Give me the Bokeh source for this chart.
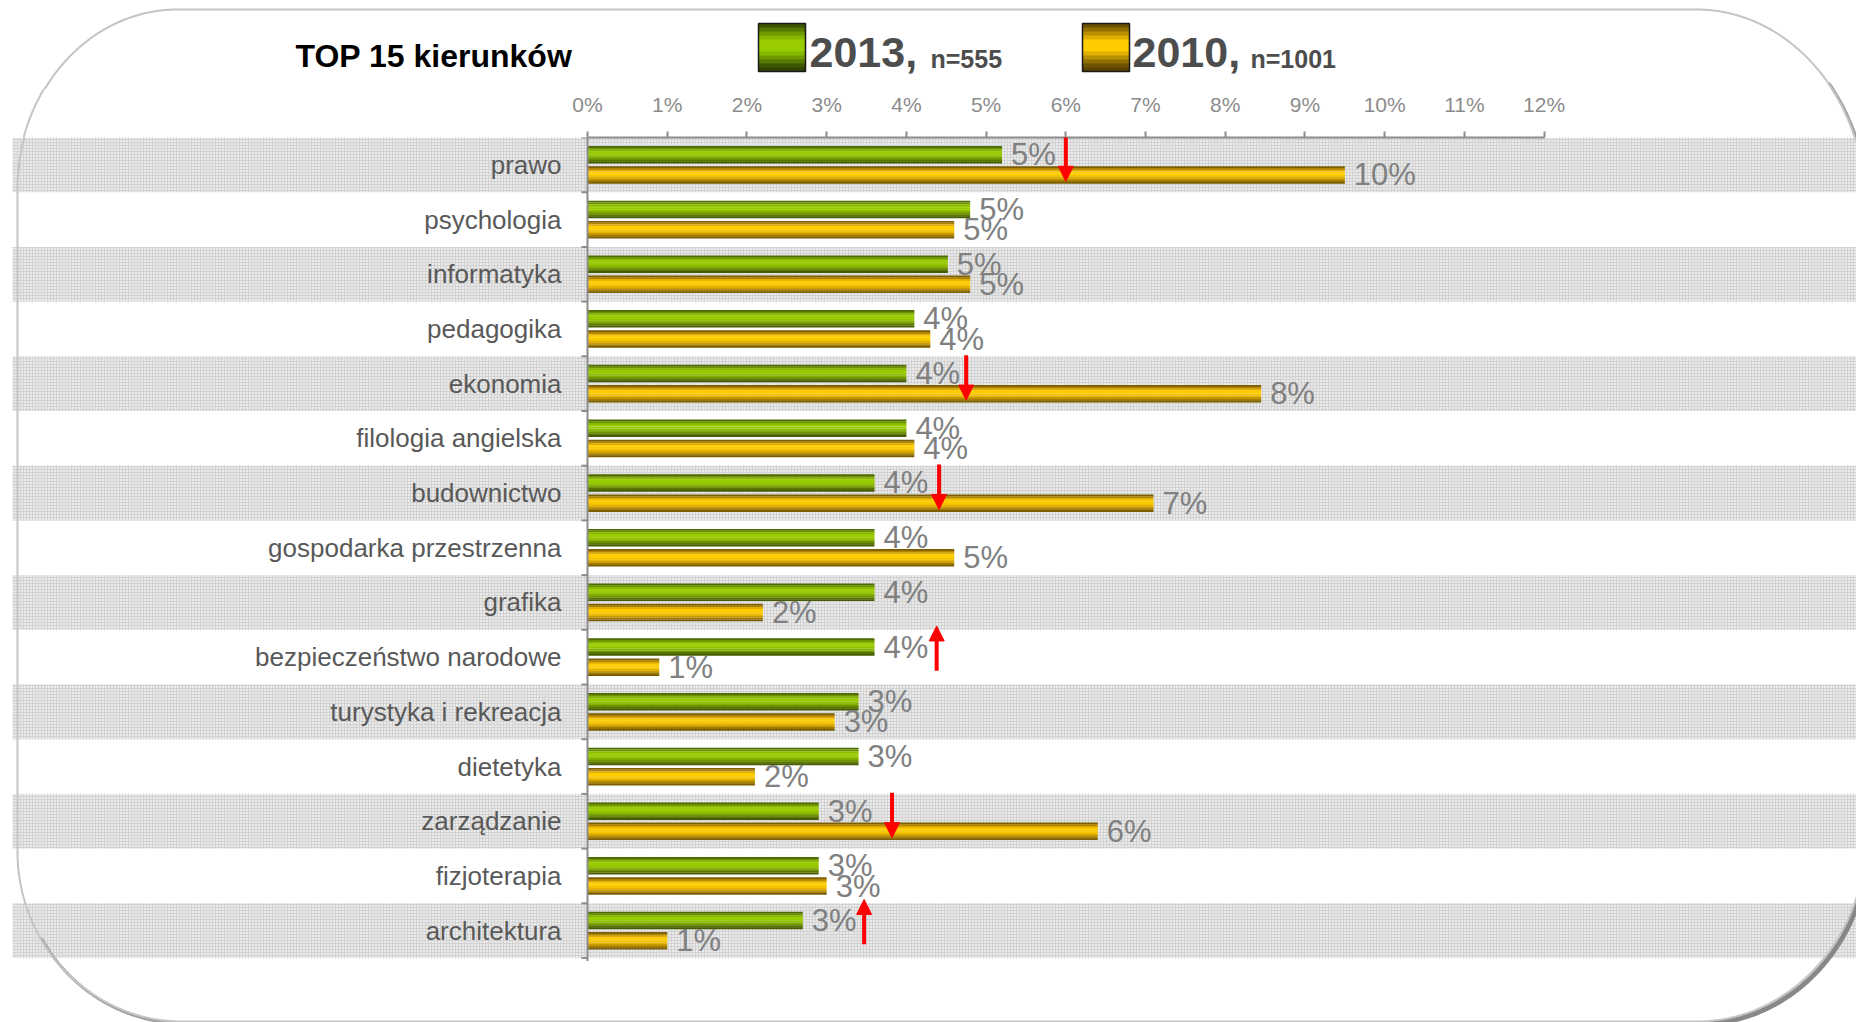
import math
from urllib.parse import quote
import numpy as np
from bokeh.plotting import figure
from bokeh.layouts import column
from bokeh.models import (Range1d, ColumnDataSource, FixedTicker, PrintfTickFormatter,
                          LinearAxis, Arrow, NormalHead)
from bokeh.embed import file_html
from bokeh.resources import INLINE
from bokeh.core.properties import value

# ---------------- data ----------------
categories = ["prawo", "psychologia", "informatyka", "pedagogika", "ekonomia",
              "filologia angielska", "budownictwo", "gospodarka przestrzenna", "grafika",
              "bezpieczeństwo narodowe", "turystyka i rekreacja", "dietetyka",
              "zarządzanie", "fizjoterapia", "architektura"]
values_2013 = [5.2, 4.8, 4.52, 4.1, 4.0, 4.0, 3.6, 3.6, 3.6, 3.6, 3.4, 3.4, 2.9, 2.9, 2.7]
values_2010 = [9.5, 4.6, 4.8, 4.3, 8.45, 4.1, 7.1, 4.6, 2.2, 0.9, 3.1, 2.1, 6.4, 3.0, 1.0]
tick_values = list(range(0, 13))
legend_years = ["2013,", "2010,"]
legend_n = ["n=555", "n=1001"]
title_text = "TOP 15 kierunków"
arrow_categories = ["prawo", "ekonomia", "budownictwo", "bezpieczeństwo narodowe",
                    "zarządzanie", "architektura"]
arrow_x = [6.0, 4.75, 4.41, 4.38, 3.82, 3.47]
arrow_directions = ["down", "down", "down", "up", "down", "up"]

# ---------------- layout constants (page pixels) ----------------
FIG_W = 1856
HEAD_H = 89
MAIN_H = 933
TOP_BORDER = 48
PAGE_LEFT = 0
HEAD_TOP = 0
MAIN_TOP = HEAD_TOP + HEAD_H          # 89
FRAME_TOP = MAIN_TOP + TOP_BORDER     # 137
FRAME_BOTTOM = MAIN_TOP + MAIN_H      # 1022
ZERO_PX = 587
PX_PER_PCT = 79.72
ROW_PX = 54.7
FONT = "Liberation Sans"

GREEN_GRAD = ["#4e6a00", "#6b9200", "#88b800", "#99cc00", "#99cc00",
              "#93c400", "#84b000", "#6f9400", "#5a7800", "#455c00"]
GOLD_GRAD = ["#7d5e00", "#b08400", "#e0ac00", "#ffcc00", "#ffcc00",
             "#f7c600", "#e6b400", "#c99b00", "#a37d00", "#7d5e00"]
GREEN_SQ = ["#3d5700", "#557800", "#6e9a00", "#86b800", "#99cc00", "#99cc00",
            "#99cc00", "#86b800", "#6e9a00", "#557800", "#3d5700", "#2f4400"]
GOLD_SQ = ["#6e5200", "#927000", "#b89000", "#e0b000", "#ffcc00", "#ffcc00",
           "#ffcc00", "#e0b000", "#b89000", "#927000", "#6e5200", "#5a4300"]


def pct(v):
    return f"{int(math.floor(v + 0.5))}%"


def corner(cx, cy, rx, ry, a0, a1, n=200):
    t = np.radians(np.linspace(a0, a1, n))
    return list(cx + rx * np.cos(t)), list(cy + ry * np.sin(t))


# decorative rounded frame (page pixel coordinates, y down)
L, T, R, B = 17, 9, 1866, 1021
TL, TR, BR, BL = (160, 180), (170, 200), (170, 187), (165, 170)


def border_path():
    xs, ys = [], []
    for (cx, cy, rx, ry, a0, a1) in [
        (L + TL[0], T + TL[1], TL[0], TL[1], 180, 270),
        (R - TR[0], T + TR[1], TR[0], TR[1], 270, 360),
        (R - BR[0], B - BR[1], BR[0], BR[1], 0, 90),
        (L + BL[0], B - BL[1], BL[0], BL[1], 90, 180),
    ]:
        x, y = corner(cx, cy, rx, ry, a0, a1)
        xs += x
        ys += y
    xs.append(xs[0])
    ys.append(ys[0])
    return xs, ys


def shadow_path():
    xs, ys = [], []
    for (cx, cy, rx, ry, a0, a1) in [
        (R - TR[0], T + TR[1], TR[0], TR[1], 320, 360),
        (R - BR[0], B - BR[1], BR[0], BR[1], 0, 90),
        (L + BL[0], B - BL[1], BL[0], BL[1], 90, 150),
    ]:
        x, y = corner(cx, cy, rx, ry, a0, a1)
        xs += x
        ys += y
    return [x + 2 for x in xs], [y + 2 for y in ys]


def br_shadow():
    x, y = corner(R - BR[0], B - BR[1], BR[0], BR[1], 0, 90)
    return [v + 2.5 for v in x], [v + 2.5 for v in y]


def draw_border(fig, xr, yr):
    sx, sy = shadow_path()
    fig.line(sx, sy, line_color="#a0a0a0", line_width=3, x_range_name=xr, y_range_name=yr)
    bx2, by2 = br_shadow()
    fig.line(bx2, by2, line_color="#888888", line_width=5, x_range_name=xr, y_range_name=yr)
    bx, by = border_path()
    fig.line(bx, by, line_color="#c4c4c4", line_width=2, x_range_name=xr, y_range_name=yr)


# ---------------- main chart ----------------
n = len(categories)
row_y = list(range(n))
x_lo = (PAGE_LEFT - ZERO_PX) / PX_PER_PCT
x_hi = (PAGE_LEFT + FIG_W - ZERO_PX) / PX_PER_PCT
y_bottom = -0.5 + (FRAME_BOTTOM - FRAME_TOP) / ROW_PX

p = figure(width=FIG_W, height=MAIN_H, x_range=Range1d(x_lo, x_hi),
           y_range=Range1d(y_bottom, -0.5), output_backend="svg", toolbar_location=None,
           x_axis_location=None, y_axis_location=None,
           min_border_top=TOP_BORDER, min_border_bottom=0, min_border_left=0, min_border_right=0,
           background_fill_color="white", border_fill_color="white")
p.border_fill_alpha = 0
p.outline_line_color = None
for g in p.grid:
    g.visible = False
p.extra_x_ranges = {"px": Range1d(PAGE_LEFT, PAGE_LEFT + FIG_W)}
p.extra_y_ranges = {"py": Range1d(FRAME_BOTTOM, FRAME_TOP)}

# alternating textured row bands
band_y = [i for i in row_y if i % 2 == 0]
band_left = (12 - ZERO_PX) / PX_PER_PCT
p.hbar(y=band_y, left=band_left, right=x_hi + 1, height=1.0,
       fill_color="#ebebeb", hatch_pattern="+", hatch_color="#d2d2d2",
       hatch_scale=3, hatch_weight=1, line_color=None)

draw_border(p, "px", "py")

# bars with a cylindrical gradient
BAR_H = 0.316
OFFS = 0.185


def gradient_bars(fig, centers, vals, colors):
    k_n = len(colors)
    h = BAR_H / k_n
    for k, c in enumerate(colors):
        ys = [y - BAR_H / 2 + (k + 0.5) * h for y in centers]
        fig.hbar(y=ys, left=0, right=vals, height=h * 1.12, fill_color=c, line_color=None)


y_2013 = [y - OFFS for y in row_y]
y_2010 = [y + OFFS for y in row_y]
gradient_bars(p, y_2013, values_2013, GREEN_GRAD)
gradient_bars(p, y_2010, values_2010, GOLD_GRAD)

# value labels
lab_style = dict(x_offset=9, text_align="left", text_baseline="middle",
                 text_font=value(FONT), text_font_size="31px", text_color="#808080")
p.text(x=values_2013, y=y_2013, text=[pct(v) for v in values_2013], **lab_style)
p.text(x=values_2010, y=y_2010, text=[pct(v) for v in values_2010], **lab_style)

# category labels
p.text(x=[0] * n, y=row_y, text=categories, x_offset=-26, text_align="right",
       text_baseline="middle", text_font=value(FONT), text_font_size="26px",
       text_color="#595959")

# vertical category axis line + ticks at row boundaries
bounds_y = [i - 0.5 for i in range(n + 1)]
tick_len = 6 / PX_PER_PCT
p.segment(x0=[0], y0=[-0.5], x1=[0], y1=[n - 0.5 + 3 / ROW_PX],
          line_color="#8c8c8c", line_width=2)
p.segment(x0=[-tick_len] * len(bounds_y), y0=bounds_y, x1=[0] * len(bounds_y), y1=bounds_y,
          line_color="#8c8c8c", line_width=2)

# red change arrows
arrow_idx = [categories.index(c) for c in arrow_categories]
a_y0 = [i - 0.52 if d == "down" else i + 0.25 for i, d in zip(arrow_idx, arrow_directions)]
a_y1 = [i + 0.30 if d == "down" else i - 0.57 for i, d in zip(arrow_idx, arrow_directions)]
arrow_src = ColumnDataSource(dict(x=arrow_x, y0=a_y0, y1=a_y1))
p.add_layout(Arrow(end=NormalHead(size=15, fill_color="#ff0000", line_color="#ff0000",
                                  line_width=1),
                   x_start="x", y_start="y0", x_end="x", y_end="y1", source=arrow_src,
                   line_color="#ff0000", line_width=4))

# top percentage axis
xaxis = LinearAxis(ticker=FixedTicker(ticks=tick_values, minor_ticks=[]),
                   formatter=PrintfTickFormatter(format="%d%%"),
                   bounds=(tick_values[0], tick_values[-1]))
xaxis.axis_line_color = "#8c8c8c"
xaxis.axis_line_width = 2
xaxis.major_tick_line_color = "#8c8c8c"
xaxis.major_tick_line_width = 2
xaxis.major_tick_in = 0
xaxis.major_tick_out = 6
xaxis.minor_tick_line_color = None
xaxis.major_label_text_font = FONT
xaxis.major_label_text_font_size = "21px"
xaxis.major_label_text_color = "#8c8c8c"
xaxis.major_label_standoff = 16
p.add_layout(xaxis, "above")


# the frame's curve inside the axis strip, painted as the figure's CSS background
def strip_piece(xs_page, ys_page, left_side):
    pts = [(x, y) for x, y in zip(xs_page, ys_page)
           if MAIN_TOP - 4 <= y <= FRAME_TOP + 4 and ((x < 900) if left_side else (x > 900))]
    if len(pts) < 2:
        return ""
    return "M" + " L".join(f"{x - PAGE_LEFT:.1f},{y - MAIN_TOP:.1f}" for x, y in pts)


bx, by = border_path()
sx, sy = shadow_path()
svg_parts = []
for d, col, lw in [(strip_piece(sx, sy, False), "#a0a0a0", 3),
                   (strip_piece(bx, by, True), "#c4c4c4", 2),
                   (strip_piece(bx, by, False), "#c4c4c4", 2)]:
    if d:
        svg_parts.append(f'<path d="{d}" stroke="{col}" stroke-width="{lw}" fill="none"/>')
svg_bg = (f'<svg xmlns="http://www.w3.org/2000/svg" width="{FIG_W}" height="{MAIN_H}">'
          + "".join(svg_parts) + "</svg>")
p.styles = {"background-image": f'url("data:image/svg+xml,{quote(svg_bg)}")',
            "background-repeat": "no-repeat",
            "background-position": "0px 0px"}

# ---------------- header (title + legend) ----------------
h = figure(width=FIG_W, height=HEAD_H, x_range=Range1d(PAGE_LEFT, PAGE_LEFT + FIG_W),
           y_range=Range1d(MAIN_TOP, HEAD_TOP), output_backend="svg", toolbar_location=None,
           x_axis_location=None, y_axis_location=None,
           min_border=0, min_border_top=0, min_border_bottom=0, min_border_left=0,
           min_border_right=0, background_fill_color="white", border_fill_color="white")
h.outline_line_color = None
for g in h.grid:
    g.visible = False
draw_border(h, "default", "default")

h.text(x=[295], y=[55], text=[title_text], text_baseline="middle",
       text_font=value(FONT), text_font_style="bold", text_font_size="32px",
       text_color="#000000")


def legend_square(fig, x0, x1, y0, y1, colors):
    k_n = len(colors)
    hh = (y1 - y0) / k_n
    fig.quad(left=[x0] * k_n, right=[x1] * k_n,
             top=[y0 + k * hh for k in range(k_n)],
             bottom=[y0 + (k + 1) * hh + 0.4 for k in range(k_n)],
             fill_color=colors, line_color=None)
    fig.quad(left=[x0], right=[x1], top=[y0], bottom=[y1], fill_color=None,
             line_color="#1a1a1a", line_width=1.5)


legend_square(h, 758, 805, 23, 71, GREEN_SQ)
legend_square(h, 1082, 1129, 23, 71, GOLD_SQ)
h.text(x=[809, 1132], y=[51.5, 51.5], text=legend_years, text_baseline="middle",
       text_font=value(FONT), text_font_style="bold", text_font_size="43px",
       text_color="#4d4d4d")
h.text(x=[930, 1250], y=[58, 58], text=legend_n, text_baseline="middle",
       text_font=value(FONT), text_font_style="bold", text_font_size="25px",
       text_color="#4d4d4d")

layout = column(h, p, spacing=0)
open("out.html", "w").write(file_html(layout, INLINE))
